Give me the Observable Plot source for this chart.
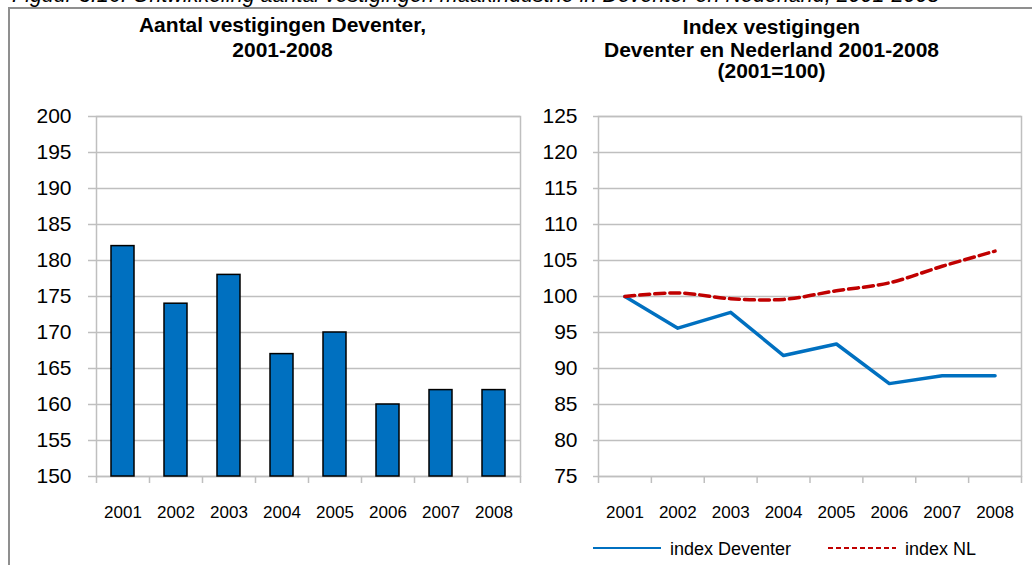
<!DOCTYPE html>
<html>
<head>
<meta charset="utf-8">
<script src="https://cdn.jsdelivr.net/npm/d3@7"></script>
<script src="https://cdn.jsdelivr.net/npm/@observablehq/plot@0.6"></script>
<style>
  html, body { margin: 0; padding: 0; background: #fff; overflow: hidden; }
  body { width: 1032px; height: 565px; position: relative; font-family: "Liberation Sans", Arial, sans-serif; color: #000; }
  .abs { position: absolute; }
  #frame { left: 8px; top: 7px; width: 1100px; height: 700px; border-left: 2px solid #8f8f8f; border-top: 2px solid #8f8f8f; }
  #caption { left: 12px; top: -15px; font-style: italic; font-size: 21.5px; white-space: nowrap; line-height: 1; }
  .title { font-weight: bold; font-size: 21px; text-align: center; white-space: nowrap; line-height: 24px; }
</style>
</head>
<body>
<script>
// ---- data ----
const captionText = "Figuur 3.16: Ontwikkeling aantal vestigingen maakindustrie in Deventer en Nederland, 2001-2008";
const leftTitleLines = ["Aantal vestigingen Deventer,", "2001-2008"];
const rightTitleLines = ["Index vestigingen", "Deventer en Nederland 2001-2008", "(2001=100)"];
const years = [2001, 2002, 2003, 2004, 2005, 2006, 2007, 2008];
const aantalVestigingen = [182, 174, 178, 167, 170, 160, 162, 162];
const indexDeventer = [100, 95.6, 97.8, 91.8, 93.4, 87.9, 89.0, 89.0];
const indexNL = [100, 100.5, 99.7, 99.6, 100.8, 101.9, 104.2, 106.3];
const leftYTicks = [150, 155, 160, 165, 170, 175, 180, 185, 190, 195, 200];
const rightYTicks = [75, 80, 85, 90, 95, 100, 105, 110, 115, 120, 125];
const seriesNames = ["index Deventer", "index NL"];
const seriesColors = ["#0070c0", "#c00000"];

// ---- derived tables ----
const barData = years.map((year, i) => ({year, value: aantalVestigingen[i]}));
const lineData = [
  ...years.map((year, i) => ({year, value: indexDeventer[i], series: seriesNames[0]})),
  ...years.map((year, i) => ({year, value: indexNL[i], series: seriesNames[1]}))
];
const boundaries = [years[0] - 0.5, ...years.map(y => y + 0.5)];
const xDomain = [years[0] - 0.5, years[years.length - 1] + 0.5];

const body = document.body;
function addDiv(cls, text, css) {
  const d = document.createElement("div");
  d.className = cls;
  d.textContent = text;
  Object.assign(d.style, css);
  body.appendChild(d);
  return d;
}
const frame = document.createElement("div");
frame.id = "frame"; frame.className = "abs";
body.appendChild(frame);
const cap = addDiv("abs", captionText, {});
cap.id = "caption";

const leftBaselines = [32, 57];
leftTitleLines.forEach((t, i) => addDiv("abs title", t, {left: "0px", width: "565px", top: (leftBaselines[i] - 19.3) + "px"}));
const rightBaselines = [34.5, 57, 78];
rightTitleLines.forEach((t, i) => addDiv("abs title", t, {left: "522px", width: "499px", top: (rightBaselines[i] - 19.3) + "px"}));

const gridColor = "#bfbfbf";
const commonStyle = {fontFamily: "'Liberation Sans', Arial, sans-serif", background: "transparent", color: "black", overflow: "visible"};

const leftChart = Plot.plot({
  width: 530, height: 430,
  marginLeft: 96, marginRight: 10, marginTop: 16, marginBottom: 54,
  style: commonStyle,
  x: {domain: xDomain},
  y: {domain: [leftYTicks[0], leftYTicks[leftYTicks.length - 1]]},
  marks: [
    Plot.gridY(leftYTicks, {stroke: gridColor, strokeOpacity: 1, strokeWidth: 1.5}),
    Plot.frame({stroke: gridColor, strokeWidth: 1.5}),
    Plot.rectY(barData, {x1: d => d.year - 0.5, x2: d => d.year + 0.5, y1: leftYTicks[0], y2: "value",
      insetLeft: 15, insetRight: 15, fill: "#0070c0", stroke: "black", strokeWidth: 1.5}),
    Plot.axisY(leftYTicks, {tickSize: 8, tickPadding: 17, stroke: gridColor, strokeWidth: 1.5, fill: "black", fontSize: 21, tickFormat: d => String(d), label: null}),
    Plot.axisX(boundaries, {tickSize: 7, stroke: gridColor, strokeWidth: 1.5, tickFormat: () => "", label: null}),
    Plot.axisX(years, {tickSize: 0, tickPadding: 29, fill: "black", fontSize: 17, tickFormat: d => String(d), label: null})
  ]
});
leftChart.classList.add("abs");
Object.assign(leftChart.style, {left: "0px", top: "100px"});
body.appendChild(leftChart);

const rightChart = Plot.plot({
  width: 521, height: 430,
  marginLeft: 88, marginRight: 10, marginTop: 16, marginBottom: 54,
  style: commonStyle,
  x: {domain: xDomain},
  y: {domain: [rightYTicks[0], rightYTicks[rightYTicks.length - 1]]},
  marks: [
    Plot.gridY(rightYTicks, {stroke: gridColor, strokeOpacity: 1, strokeWidth: 1.5}),
    Plot.frame({stroke: gridColor, strokeWidth: 1.5}),
    Plot.axisY(rightYTicks, {tickSize: 5, tickPadding: 16, stroke: gridColor, strokeWidth: 1.5, fill: "black", fontSize: 21, tickFormat: d => String(d), label: null}),
    Plot.axisX(boundaries, {tickSize: 7, stroke: gridColor, strokeWidth: 1.5, tickFormat: () => "", label: null}),
    Plot.axisX(years, {tickSize: 0, tickPadding: 29, fill: "black", fontSize: 17, tickFormat: d => String(d), label: null}),
    Plot.line(lineData.filter(d => d.series === seriesNames[0]), {x: "year", y: "value", stroke: seriesColors[0], strokeWidth: 3.5, strokeLinejoin: "round"}),
    Plot.line(lineData.filter(d => d.series === seriesNames[1]), {x: "year", y: "value", stroke: seriesColors[1], strokeWidth: 3.5, strokeDasharray: "10,5", curve: "catmull-rom"})
  ]
});
rightChart.classList.add("abs");
Object.assign(rightChart.style, {left: "510px", top: "100px"});
body.appendChild(rightChart);

// ---- legend ----
const ns = "http://www.w3.org/2000/svg";
const leg = document.createElementNS(ns, "svg");
leg.setAttribute("width", 420); leg.setAttribute("height", 34);
leg.setAttribute("class", "abs");
leg.style.left = "580px"; leg.style.top = "530px";
leg.style.fontFamily = "'Liberation Sans', Arial, sans-serif";
const legX = [13, 248];
seriesNames.forEach((name, i) => {
  const l = document.createElementNS(ns, "line");
  l.setAttribute("x1", legX[i]); l.setAttribute("x2", legX[i] + 68);
  l.setAttribute("y1", 18); l.setAttribute("y2", 18);
  l.setAttribute("stroke", seriesColors[i]); l.setAttribute("stroke-width", 2);
  if (i === 1) l.setAttribute("stroke-dasharray", "5,3");
  leg.appendChild(l);
  const t = document.createElementNS(ns, "text");
  t.setAttribute("x", legX[i] + 77); t.setAttribute("y", 25);
  t.setAttribute("font-size", 18);
  t.textContent = name;
  leg.appendChild(t);
});
body.appendChild(leg);
</script>
</body>
</html>
